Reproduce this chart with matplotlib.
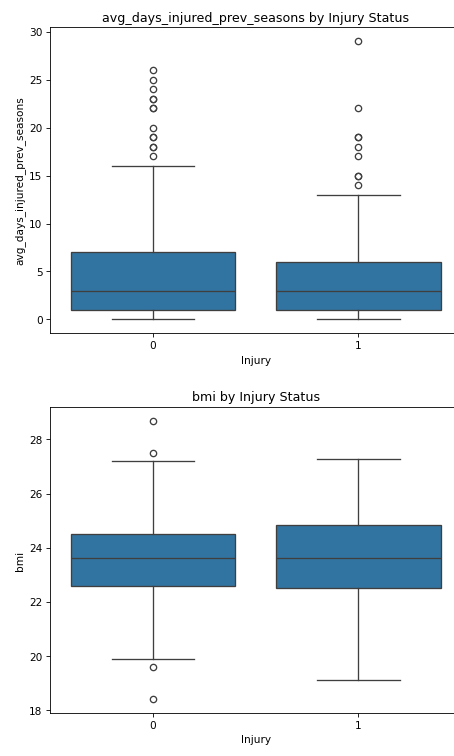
import matplotlib
matplotlib.use('Agg')
import matplotlib.pyplot as plt

# injury groups on the x axis
groups = ['0', '1']

# avg_days_injured_prev_seasons: box statistics per group
days_med = [3, 3]
days_q1 = [1, 1]
days_q3 = [7, 6]
days_whislo = [0, 0]
days_whishi = [16, 13]
days_fliers = [
    [17, 18, 18, 19, 19, 20, 22, 22, 23, 23, 24, 25, 26],
    [14, 15, 15, 17, 18, 19, 19, 22, 29],
]

# bmi: box statistics per group
bmi_med = [23.60, 23.63]
bmi_q1 = [22.57, 22.52]
bmi_q3 = [24.50, 24.83]
bmi_whislo = [19.90, 19.12]
bmi_whishi = [27.19, 27.29]
bmi_fliers = [
    [28.69, 27.49, 19.60, 18.41],
    [],
]

box_col = '#3274a1'
line_col = '#3f3f3f'


def make_stats(med, q1, q3, lo, hi, fliers):
    stats = []
    for i in range(len(groups)):
        stats.append({'med': med[i], 'q1': q1[i], 'q3': q3[i],
                      'whislo': lo[i], 'whishi': hi[i],
                      'fliers': fliers[i], 'label': groups[i]})
    return stats


def draw_box(ax, stats, col_name):
    ax.bxp(stats, positions=range(len(groups)), widths=0.8,
           patch_artist=True, showfliers=True,
           boxprops=dict(facecolor=box_col, edgecolor=line_col, linewidth=1.25),
           medianprops=dict(color=line_col, linewidth=1.25),
           whiskerprops=dict(color=line_col, linewidth=1.25),
           capprops=dict(color=line_col, linewidth=1.25),
           flierprops=dict(marker='o', markerfacecolor='none',
                           markeredgecolor=line_col, markersize=6,
                           markeredgewidth=1.25))
    ax.set_xlim(-0.5, len(groups) - 0.5)
    ax.set_xticks(range(len(groups)))
    ax.set_xticklabels(groups)
    ax.set_title(f'{col_name} by Injury Status')
    ax.set_xlabel('Injury')
    ax.set_ylabel(col_name)


fig, axs = plt.subplots(2, 1, figsize=(6, 10))

draw_box(axs[0], make_stats(days_med, days_q1, days_q3, days_whislo, days_whishi, days_fliers),
         'avg_days_injured_prev_seasons')
draw_box(axs[1], make_stats(bmi_med, bmi_q1, bmi_q3, bmi_whislo, bmi_whishi, bmi_fliers),
         'bmi')
axs[0].set_yticks([0, 5, 10, 15, 20, 25, 30])

# the right side of both panels runs slightly past the canvas edge
plt.subplots_adjust(left=0.110, right=1.016, top=0.963, bottom=0.057, hspace=0.24)

fig.savefig('out.png', dpi=75.67)
